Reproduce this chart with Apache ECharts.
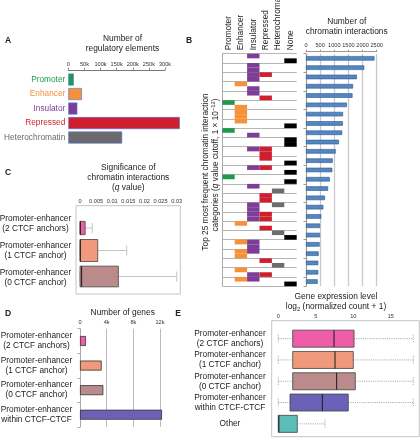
<!DOCTYPE html>
<html><head><meta charset="utf-8">
<script src="https://cdn.jsdelivr.net/npm/echarts@6/dist/echarts.min.js"></script>
<style>html,body{margin:0;padding:0;background:#fff}#c{width:420px;height:440px}</style>
</head><body><div id="c"></div>
<script>
// ---------- Panel A: number of regulatory elements ----------
const elementTypes = ['Promoter', 'Enhancer', 'Insulator', 'Repressed', 'Heterochromatin'];
const elementCounts = [17000, 42000, 28000, 346000, 167000];

// ---------- Panel B: top 25 interaction categories ----------
const matrixColumns = ['Promoter', 'Enhancer', 'Insulator', 'Repressed', 'Heterochromatin', 'None'];
const anchorTop = [
  ['Insulator'], ['Insulator'], ['Insulator', 'Repressed'], ['Enhancer'], ['Insulator'],
  ['Promoter'], ['Enhancer'], ['Enhancer'], ['Promoter'], ['None'],
  ['Insulator', 'Repressed'], ['Repressed'], ['Insulator', 'Repressed'], ['Promoter'], ['Insulator'],
  ['Repressed'], ['Insulator', 'Heterochromatin'], ['Insulator', 'Repressed'], ['Enhancer'], ['Heterochromatin'],
  ['Enhancer', 'Insulator'], ['Enhancer', 'Insulator'], ['Repressed'], ['Enhancer'], ['Enhancer', 'Insulator']
];
const anchorBottom = [
  ['None'], ['Insulator'], ['Insulator'], ['Insulator'], ['Repressed'],
  ['Enhancer'], ['Enhancer'], ['None'], ['Insulator'], ['None'],
  ['Repressed'], ['None'], ['None'], ['None'], ['Heterochromatin'],
  ['Repressed'], ['Insulator'], ['Insulator', 'Repressed'], ['Repressed'], ['None'],
  ['Insulator'], ['Enhancer'], ['Heterochromatin'], ['Insulator', 'Repressed'], ['None']
];
const interactionCounts = [2420, 2060, 1800, 1665, 1645, 1445, 1310, 1305, 1280, 1165,
  1050, 945, 930, 840, 780, 672, 613, 542, 495, 495, 483, 448, 436, 436, 413];

// ---------- Panel C: q values ----------
const peCategories = ['Promoter-enhancer\n(2 CTCF anchors)', 'Promoter-enhancer\n(1 CTCF anchor)', 'Promoter-enhancer\n(0 CTCF anchor)'];
const qMin = [0, 0, 0];
const qQ1 = [0, 0, 0];
const qMedian = [0.0001, 0.0001, 0.0005];
const qQ3 = [0.0016, 0.0055, 0.0119];
const qMax = [0.0038, 0.0145, 0.0300];

// ---------- Panel D: number of genes ----------
const geneCategories = ['Promoter-enhancer\n(2 CTCF anchors)', 'Promoter-enhancer\n(1 CTCF anchor)', 'Promoter-enhancer\n(0 CTCF anchor)', 'Promoter-enhancer\nwithin CTCF-CTCF'];
const geneCounts = [900, 3250, 3500, 12300];

// ---------- Panel E: gene expression ----------
const exprCategories = ['Promoter-enhancer\n(2 CTCF anchors)', 'Promoter-enhancer\n(1 CTCF anchor)', 'Promoter-enhancer\n(0 CTCF anchor)', 'Promoter-enhancer\nwithin CTCF-CTCF', 'Other'];
const exprMin = [0, 0, 0, 0, 0];
const exprQ1 = [1.92, 1.92, 1.92, 1.56, 0];
const exprMedian = [7.43, 7.56, 7.78, 5.87, 0.08];
const exprQ3 = [10.1, 10.0, 10.27, 9.33, 2.53];
const exprMax = [18, 18, 18, 18, 6.22];

// ---------- styles ----------
const FONT = '"Liberation Sans", Arial, Helvetica, sans-serif';
const TXT = '#222';
const elementColors = ['#1f9a4b', '#f6913a', '#7e3d97', '#cf1f2e', '#6b6b6b'];
const elementBorders = ['#17703a', '#b8692a', '#5c2c6e', '#971722', '#4a4a4a'];
const matrixColors = ['#1f9a4b', '#f6913a', '#7e3d97', '#cf1f2e', '#6d6d6d', '#000000'];
const peColors = ['#ee5ea8', '#f09a7b', '#bb8a8a', '#6b62b8', '#5bbdb8'];

const matrixCells = [];
anchorTop.forEach((types, r) => types.forEach(t => matrixCells.push([matrixColumns.indexOf(t), r])));
anchorBottom.forEach((types, r) => types.forEach(t => matrixCells.push([matrixColumns.indexOf(t), r + 0.5])));
const rowNames = anchorTop.map((t, i) => t.join('+') + ' / ' + anchorBottom[i].join('+'));

function boxRenderer(cfg) {
  return function (params, api) {
    const i = params.dataIndex;
    const cat = api.value(0);
    const xs = [1, 2, 3, 4, 5].map(k => api.coord([api.value(k), cat])[0]);
    const y = api.coord([0, cat])[1] + cfg.dy[i];
    const h = cfg.heights[i];
    const wl = { stroke: cfg.whisker, lineWidth: cfg.whiskerWidth, lineDash: cfg.dash };
    return {
      type: 'group',
      children: [
        { type: 'line', shape: { x1: xs[0], y1: y, x2: xs[1], y2: y }, style: wl },
        { type: 'line', shape: { x1: xs[3], y1: y, x2: xs[4], y2: y }, style: wl },
        { type: 'line', shape: { x1: xs[0], y1: y - cfg.cap / 2, x2: xs[0], y2: y + cfg.cap / 2 }, style: wl },
        { type: 'line', shape: { x1: xs[4], y1: y - cfg.cap / 2, x2: xs[4], y2: y + cfg.cap / 2 }, style: wl },
        { type: 'rect', shape: { x: xs[1], y: y - h / 2, width: xs[3] - xs[1], height: h },
          style: { fill: peColors[i], stroke: '#444', lineWidth: 0.8 } },
        { type: 'line', shape: { x1: xs[2], y1: y - h / 2, x2: xs[2], y2: y + h / 2 },
          style: { stroke: '#1a1a1a', lineWidth: 1 } }
      ]
    };
  };
}

function gtext(x, y, text, size, extra) {
  return {
    type: 'text', x: x, y: y,
    style: Object.assign({ text: text, fontSize: size, fontFamily: FONT, fill: TXT,
      align: 'center', verticalAlign: 'middle', textAlign: 'center', textVerticalAlign: 'middle' }, extra || {})
  };
}
function rich(size) {
  return {
    n: { fontSize: size, fontFamily: FONT, fill: TXT, color: TXT, lineHeight: 11 },
    i: { fontSize: size, fontFamily: FONT, fontStyle: 'italic', fill: TXT, color: TXT, lineHeight: 11 },
    sub: { fontSize: size * 0.7, fontFamily: FONT, fill: TXT, color: TXT, lineHeight: 5, verticalAlign: 'bottom' },
    sup: { fontSize: size * 0.7, fontFamily: FONT, fill: TXT, color: TXT, lineHeight: 5, verticalAlign: 'top' }
  };
}

const catLabel = (margin) => ({ fontSize: 8.3, fontFamily: FONT, color: TXT, align: 'center', margin: margin, lineHeight: 10 });
const smallLabel = (margin, fmt) => ({ fontSize: 5.6, fontFamily: FONT, color: '#333', margin: margin, formatter: fmt });
const kfmt = v => (v === 0 ? '0' : (v / 1000) + 'k');

const option = {
  animation: false,
  backgroundColor: '#fff',
  grid: [
    { left: 68.3, top: 72.3, width: 96.7, height: 72.5, outerBoundsMode: 'none' },
    { left: 222.3, top: 53.7, width: 74.4, height: 232.5, outerBoundsMode: 'none' },
    { left: 306, top: 53.7, width: 70.7, height: 232.5, outerBoundsMode: 'none' },
    { left: 80, top: 210, width: 96.7, height: 81, outerBoundsMode: 'none' },
    { left: 80, top: 328.7, width: 80, height: 98.3, outerBoundsMode: 'none' },
    { left: 278.3, top: 328, width: 135, height: 106.5, outerBoundsMode: 'none' }
  ],
  xAxis: [
    { gridIndex: 0, type: 'value', position: 'top', min: 0, max: 300000, interval: 50000, offset: 2.5,
      axisLine: { show: true, lineStyle: { color: '#555', width: 0.8 } },
      axisTick: { show: true, length: 2, lineStyle: { color: '#555', width: 0.8 } },
      axisLabel: smallLabel(2.5, kfmt), splitLine: { show: false } },
    { gridIndex: 1, type: 'category', position: 'top', data: matrixColumns,
      axisLine: { show: false }, axisTick: { show: false },
      axisLabel: { rotate: 90, interval: 0, fontSize: 8.3, fontFamily: FONT, color: TXT, margin: 3.5 } },
    { gridIndex: 2, type: 'value', position: 'top', min: 0, max: 2500, interval: 500, offset: 2,
      axisLine: { show: true, lineStyle: { color: '#999', width: 1 } },
      axisTick: { show: true, length: 2, lineStyle: { color: '#999' } },
      axisLabel: smallLabel(3, v => String(v)),
      splitLine: { show: true, lineStyle: { color: '#c8c8c8', width: 1.3 } } },
    { gridIndex: 3, type: 'value', position: 'top', min: 0, max: 0.03, interval: 0.005,
      axisLine: { show: false }, axisTick: { show: false },
      axisLabel: smallLabel(6, v => String(+v.toFixed(3))), splitLine: { show: false } },
    { gridIndex: 4, type: 'value', position: 'top', min: 0, max: 12000, interval: 4000,
      axisLine: { show: false }, axisTick: { show: false },
      axisLabel: smallLabel(3, kfmt),
      splitLine: { show: true, lineStyle: { color: '#bbb', width: 1 } } },
    { gridIndex: 5, type: 'value', position: 'top', min: 0, max: 18, interval: 5,
      axisLine: { show: false }, axisTick: { show: false },
      axisLabel: smallLabel(9, v => (v % 5 === 0 ? String(v) : '')), splitLine: { show: false } }
  ],
  yAxis: [
    { gridIndex: 0, type: 'category', data: elementTypes, inverse: true,
      axisLine: { show: false }, axisTick: { show: false },
      axisLabel: { fontSize: 8.3, fontFamily: FONT, margin: 3, color: (v, i) => elementColors[elementTypes.indexOf(v)] } },
    { gridIndex: 1, type: 'value', min: 0, max: 25, interval: 1, inverse: true,
      axisLine: { show: true, lineStyle: { color: '#aaa', width: 1 } }, axisTick: { show: false },
      axisLabel: { show: false }, splitLine: { show: true, lineStyle: { color: '#b5b5b5', width: 1 } } },
    { gridIndex: 2, type: 'category', data: rowNames, inverse: true,
      axisLine: { show: true, lineStyle: { color: '#999' } },
      axisTick: { show: true, length: 2.5, lineStyle: { color: '#999' } }, axisLabel: { show: false } },
    { gridIndex: 3, type: 'category', data: peCategories, inverse: true,
      axisLine: { show: false }, axisTick: { show: false }, axisLabel: catLabel(44.5) },
    { gridIndex: 4, type: 'category', data: geneCategories, inverse: true,
      axisLine: { show: true, lineStyle: { color: '#aaa' } },
      axisTick: { show: true, length: 2.5, lineStyle: { color: '#aaa' } }, axisLabel: catLabel(43.5) },
    { gridIndex: 5, type: 'category', data: exprCategories, inverse: true,
      axisLine: { show: false }, axisTick: { show: false }, axisLabel: catLabel(48.3) }
  ],
  series: [
    { type: 'bar', xAxisIndex: 0, yAxisIndex: 0, data: elementCounts, barWidth: 12, clip: false,
      itemStyle: { color: p => elementColors[p.dataIndex], borderColor: p => elementBorders[p.dataIndex], borderWidth: 0.6 } },
    { type: 'custom', xAxisIndex: 1, yAxisIndex: 1, data: matrixCells, encode: { x: 0, y: 1 },
      renderItem: (params, api) => {
        const col = api.value(0);
        const p = api.coord([col, api.value(1)]);
        const bw = api.size([1, 0])[0];
        const hh = api.size([0, 0.5])[1];
        return { type: 'rect', shape: { x: p[0] - bw / 2, y: p[1], width: bw, height: hh },
          style: { fill: matrixColors[col] } };
      } },
    { type: 'bar', xAxisIndex: 2, yAxisIndex: 2, data: interactionCounts, barWidth: 4.5,
      itemStyle: { color: '#5386c2', borderColor: '#2c5a8c', borderWidth: 0.6 } },
    { type: 'custom', xAxisIndex: 3, yAxisIndex: 3,
      data: peCategories.map((c, i) => [i, qMin[i], qQ1[i], qMedian[i], qQ3[i], qMax[i]]),
      encode: { x: [1, 2, 3, 4, 5], y: 0 },
      renderItem: boxRenderer({ heights: [13.3, 22, 20.7], dy: [4.5, 0, -1], cap: 10,
        whisker: '#c4c4c4', whiskerWidth: 1, dash: null }) },
    { type: 'bar', xAxisIndex: 4, yAxisIndex: 4, data: geneCounts, barWidth: 10, clip: false,
      itemStyle: { color: p => peColors[p.dataIndex], borderColor: '#333', borderWidth: 0.8 } },
    { type: 'custom', xAxisIndex: 5, yAxisIndex: 5,
      data: exprCategories.map((c, i) => [i, exprMin[i], exprQ1[i], exprMedian[i], exprQ3[i], exprMax[i]]),
      encode: { x: [1, 2, 3, 4, 5], y: 0 },
      renderItem: boxRenderer({ heights: [17, 17, 17, 17, 17], dy: [0, 0, 0, 0, 0], cap: 8,
        whisker: '#888', whiskerWidth: 0.8, dash: [1, 1.2] }) }
  ],
  graphic: [
    { type: 'rect', shape: { x: 76, y: 205.7, width: 104.3, height: 88.3 }, style: { fill: 'none', stroke: '#c4c4c4', lineWidth: 1 }, z: -1 },
    { type: 'rect', shape: { x: 271.7, y: 320.7, width: 147.6, height: 116 }, style: { fill: 'none', stroke: '#c4c4c4', lineWidth: 1 }, z: -1 },
    gtext(8, 41, 'A', 8.5, { fontWeight: 'bold' }),
    gtext(189, 41, 'B', 8.5, { fontWeight: 'bold' }),
    gtext(8, 173, 'C', 8.5, { fontWeight: 'bold' }),
    gtext(8, 314, 'D', 8.5, { fontWeight: 'bold' }),
    gtext(178, 314, 'E', 8.5, { fontWeight: 'bold' }),
    gtext(122.5, 39, 'Number of', 8.4),
    gtext(122.5, 49, 'regulatory elements', 8.4),
    gtext(346.7, 21.7, 'Number of', 8.4),
    gtext(346.7, 31.7, 'chromatin interactions', 8.4),
    gtext(128.3, 167.3, 'Significance of', 8.4),
    gtext(128.3, 177.3, 'chromatin interactions', 8.4),
    gtext(128.3, 187.3, '{n|(}{i|q}{n| value)}', 8.4, { rich: rich(8.4) }),
    gtext(122.7, 312.7, 'Number of genes', 8.4),
    gtext(336, 297, 'Gene expression level', 8.4),
    gtext(336, 307, '{n|log}{sub|2}{n| (normalized count + 1)}', 8.4, { rich: rich(8.4) }),
    Object.assign(gtext(206, 172, 'Top 25 most frequent chromatin interaction', 8.3), { rotation: Math.PI / 2 }),
    Object.assign(gtext(216, 165, '{n|categories (}{i|q}{n| value cutoff, 1 × 10}{sup|−12}{n|)}', 8.3, { rich: rich(8.3) }), { rotation: Math.PI / 2 })
  ]
};

const chart = echarts.init(document.getElementById('c'), null, { renderer: 'canvas' });
chart.setOption(option);
</script>
</body></html>
